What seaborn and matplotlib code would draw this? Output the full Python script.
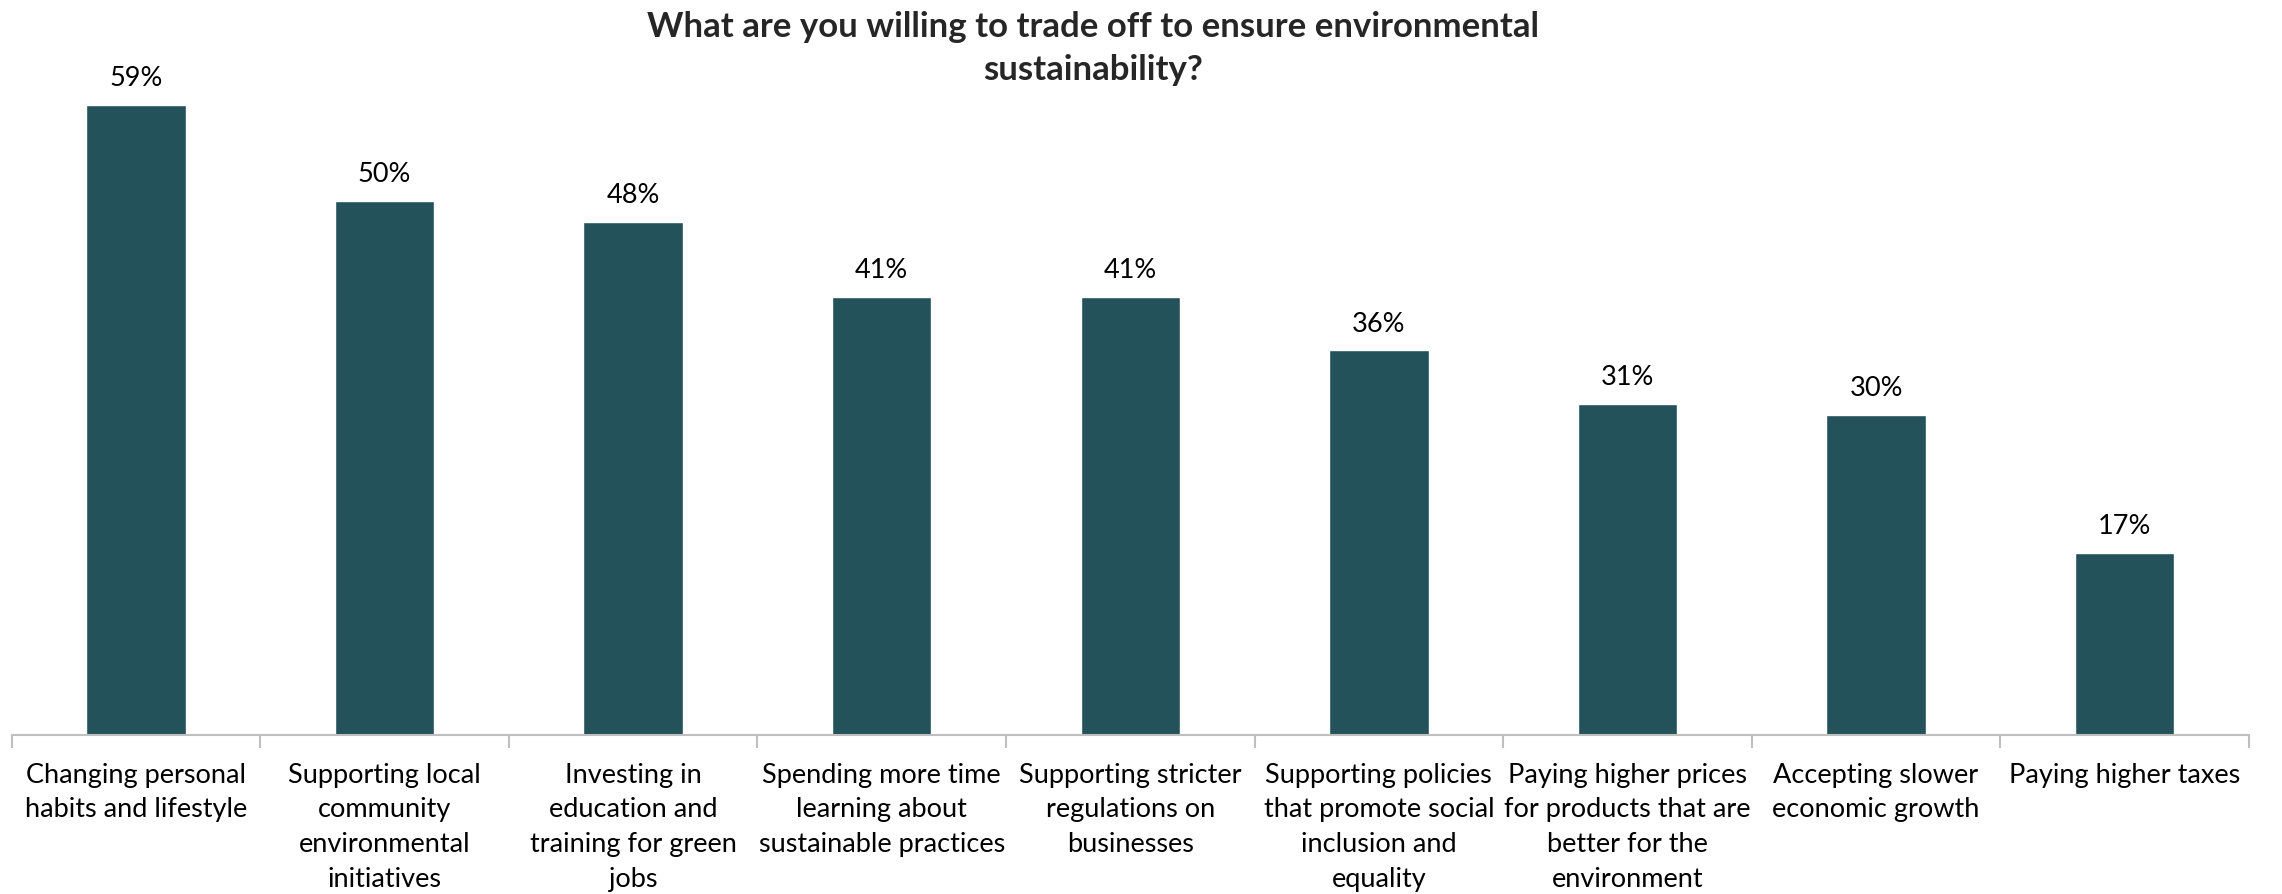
import matplotlib
matplotlib.use("Agg")
import matplotlib.pyplot as plt
import seaborn as sns
import pandas as pd
import numpy as np

categories = [
    "Changing personal\nhabits and lifestyle",
    "Supporting local\ncommunity\nenvironmental\ninitiatives",
    "Investing in\neducation and\ntraining for green\njobs",
    "Spending more time\nlearning about\nsustainable practices",
    "Supporting stricter\nregulations on\nbusinesses",
    "Supporting policies\nthat promote social\ninclusion and\nequality",
    "Paying higher prices\nfor products that are\nbetter for the\nenvironment",
    "Accepting slower\neconomic growth",
    "Paying higher taxes",
]
values = [59, 50, 48, 41, 41, 36, 31, 30, 17]
title = "What are you willing to trade off to ensure environmental\nsustainability?"

sns.set_theme(style="white")
plt.rcParams["font.family"] = ["Lato", "DejaVu Sans"]

bar_color = "#23525A"
df = pd.DataFrame({"category": categories, "value": values})

fig = plt.figure(figsize=(22.82, 8.94), dpi=100)
ax = fig.add_axes([0.0051, 0.1779, 0.9804, 0.7766])

sns.barplot(data=df, x="category", y="value", color=bar_color, width=0.4,
            saturation=1, ax=ax)

ax.set_ylim(0, 65)
ax.set_xlim(-0.5, len(categories) - 0.5)
ax.set_xlabel("")
ax.set_ylabel("")
ax.set_yticks([])

for s in ["top", "right", "left"]:
    ax.spines[s].set_visible(False)
ax.spines["bottom"].set_color("#BFBFBF")
ax.spines["bottom"].set_linewidth(1.5)

# category labels centred under bars, tick marks on the category boundaries
ax.tick_params(axis="x", which="major", length=0, pad=20, labelsize=19.5,
               labelcolor="black")
for lab in ax.get_xticklabels():
    lab.set_horizontalalignment("center")
    lab.set_linespacing(1.48)
ax.set_xticks(np.arange(-0.5, len(categories)), minor=True)
ax.tick_params(axis="x", which="minor", length=9, width=1.5, color="#BFBFBF",
               bottom=True)

for i, v in enumerate(values):
    ax.annotate(f"{v}%", xy=(i, v), xytext=(0, 10), textcoords="offset points",
                ha="center", va="bottom", fontsize=19.5, color="black")

fig.text(0.479, 0.988, title, ha="center", va="top", fontsize=25,
         fontweight="bold", linespacing=1.45)

fig.savefig("out.png", dpi=100)
